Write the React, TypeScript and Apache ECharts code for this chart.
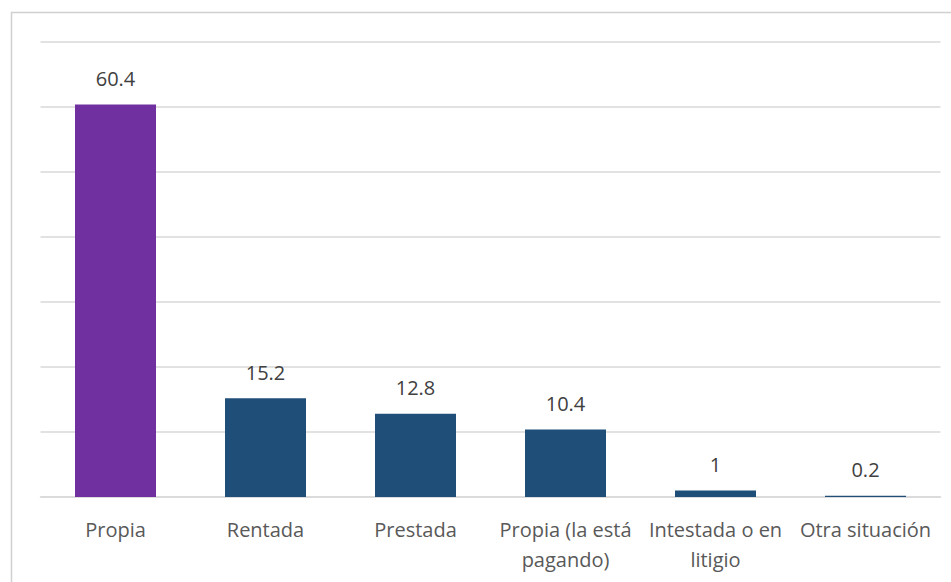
import React, { useEffect, useRef } from "react";
import * as echarts from "echarts";

const categories = [
  "Propia",
  "Rentada",
  "Prestada",
  "Propia (la está\npagando)",
  "Intestada o en\nlitigio",
  "Otra situación",
];
const values = [60.4, 15.2, 12.8, 10.4, 1, 0.2];
const barColors = ["#7030A0", "#1F4E79", "#1F4E79", "#1F4E79", "#1F4E79", "#1F4E79"];

export default function App() {
  const ref = useRef<HTMLDivElement>(null);
  useEffect(() => {
    if (!ref.current) return;
    const chart = echarts.init(ref.current, null, { renderer: "svg" });
    chart.setOption({
      animation: false,
      textStyle: { fontFamily: "Open Sans" },
      grid: { left: 40.5, right: 10.5, top: 42, bottom: 85, containLabel: false },
      xAxis: {
        type: "category",
        data: categories,
        axisTick: { show: false },
        axisLine: { show: true, lineStyle: { color: "#d9d9d9", width: 1.5 } },
        axisLabel: {
          color: "#595959",
          fontSize: 20,
          margin: 17,
          lineHeight: 30,
          interval: 0,
          fontFamily: "Open Sans",
        },
      },
      yAxis: {
        type: "value",
        min: 0,
        max: 70,
        interval: 10,
        axisLabel: { show: false },
        axisLine: { show: false },
        axisTick: { show: false },
        splitLine: { lineStyle: { color: "#d9d9d9", width: 1.5 } },
      },
      graphic: [
        {
          type: "rect",
          shape: { x: 11.5, y: 12.5, width: 960, height: 600 },
          style: { fill: "none", stroke: "#d0d0d0", lineWidth: 1.5 },
          silent: true,
        },
      ],
      series: [
        {
          type: "bar",
          barWidth: 81,
          data: values.map((v, i) => ({ value: v, itemStyle: { color: barColors[i] } })),
          label: {
            show: true,
            position: "top",
            distance: 16,
            color: "#404040",
            fontSize: 20,
            fontFamily: "Open Sans",
          },
        },
      ],
    });
    return () => chart.dispose();
  }, []);
  return (
    <div
      ref={ref}
      style={{ position: "fixed", left: 0, top: 0, width: 951, height: 582, background: "#fff" }}
    />
  );
}
